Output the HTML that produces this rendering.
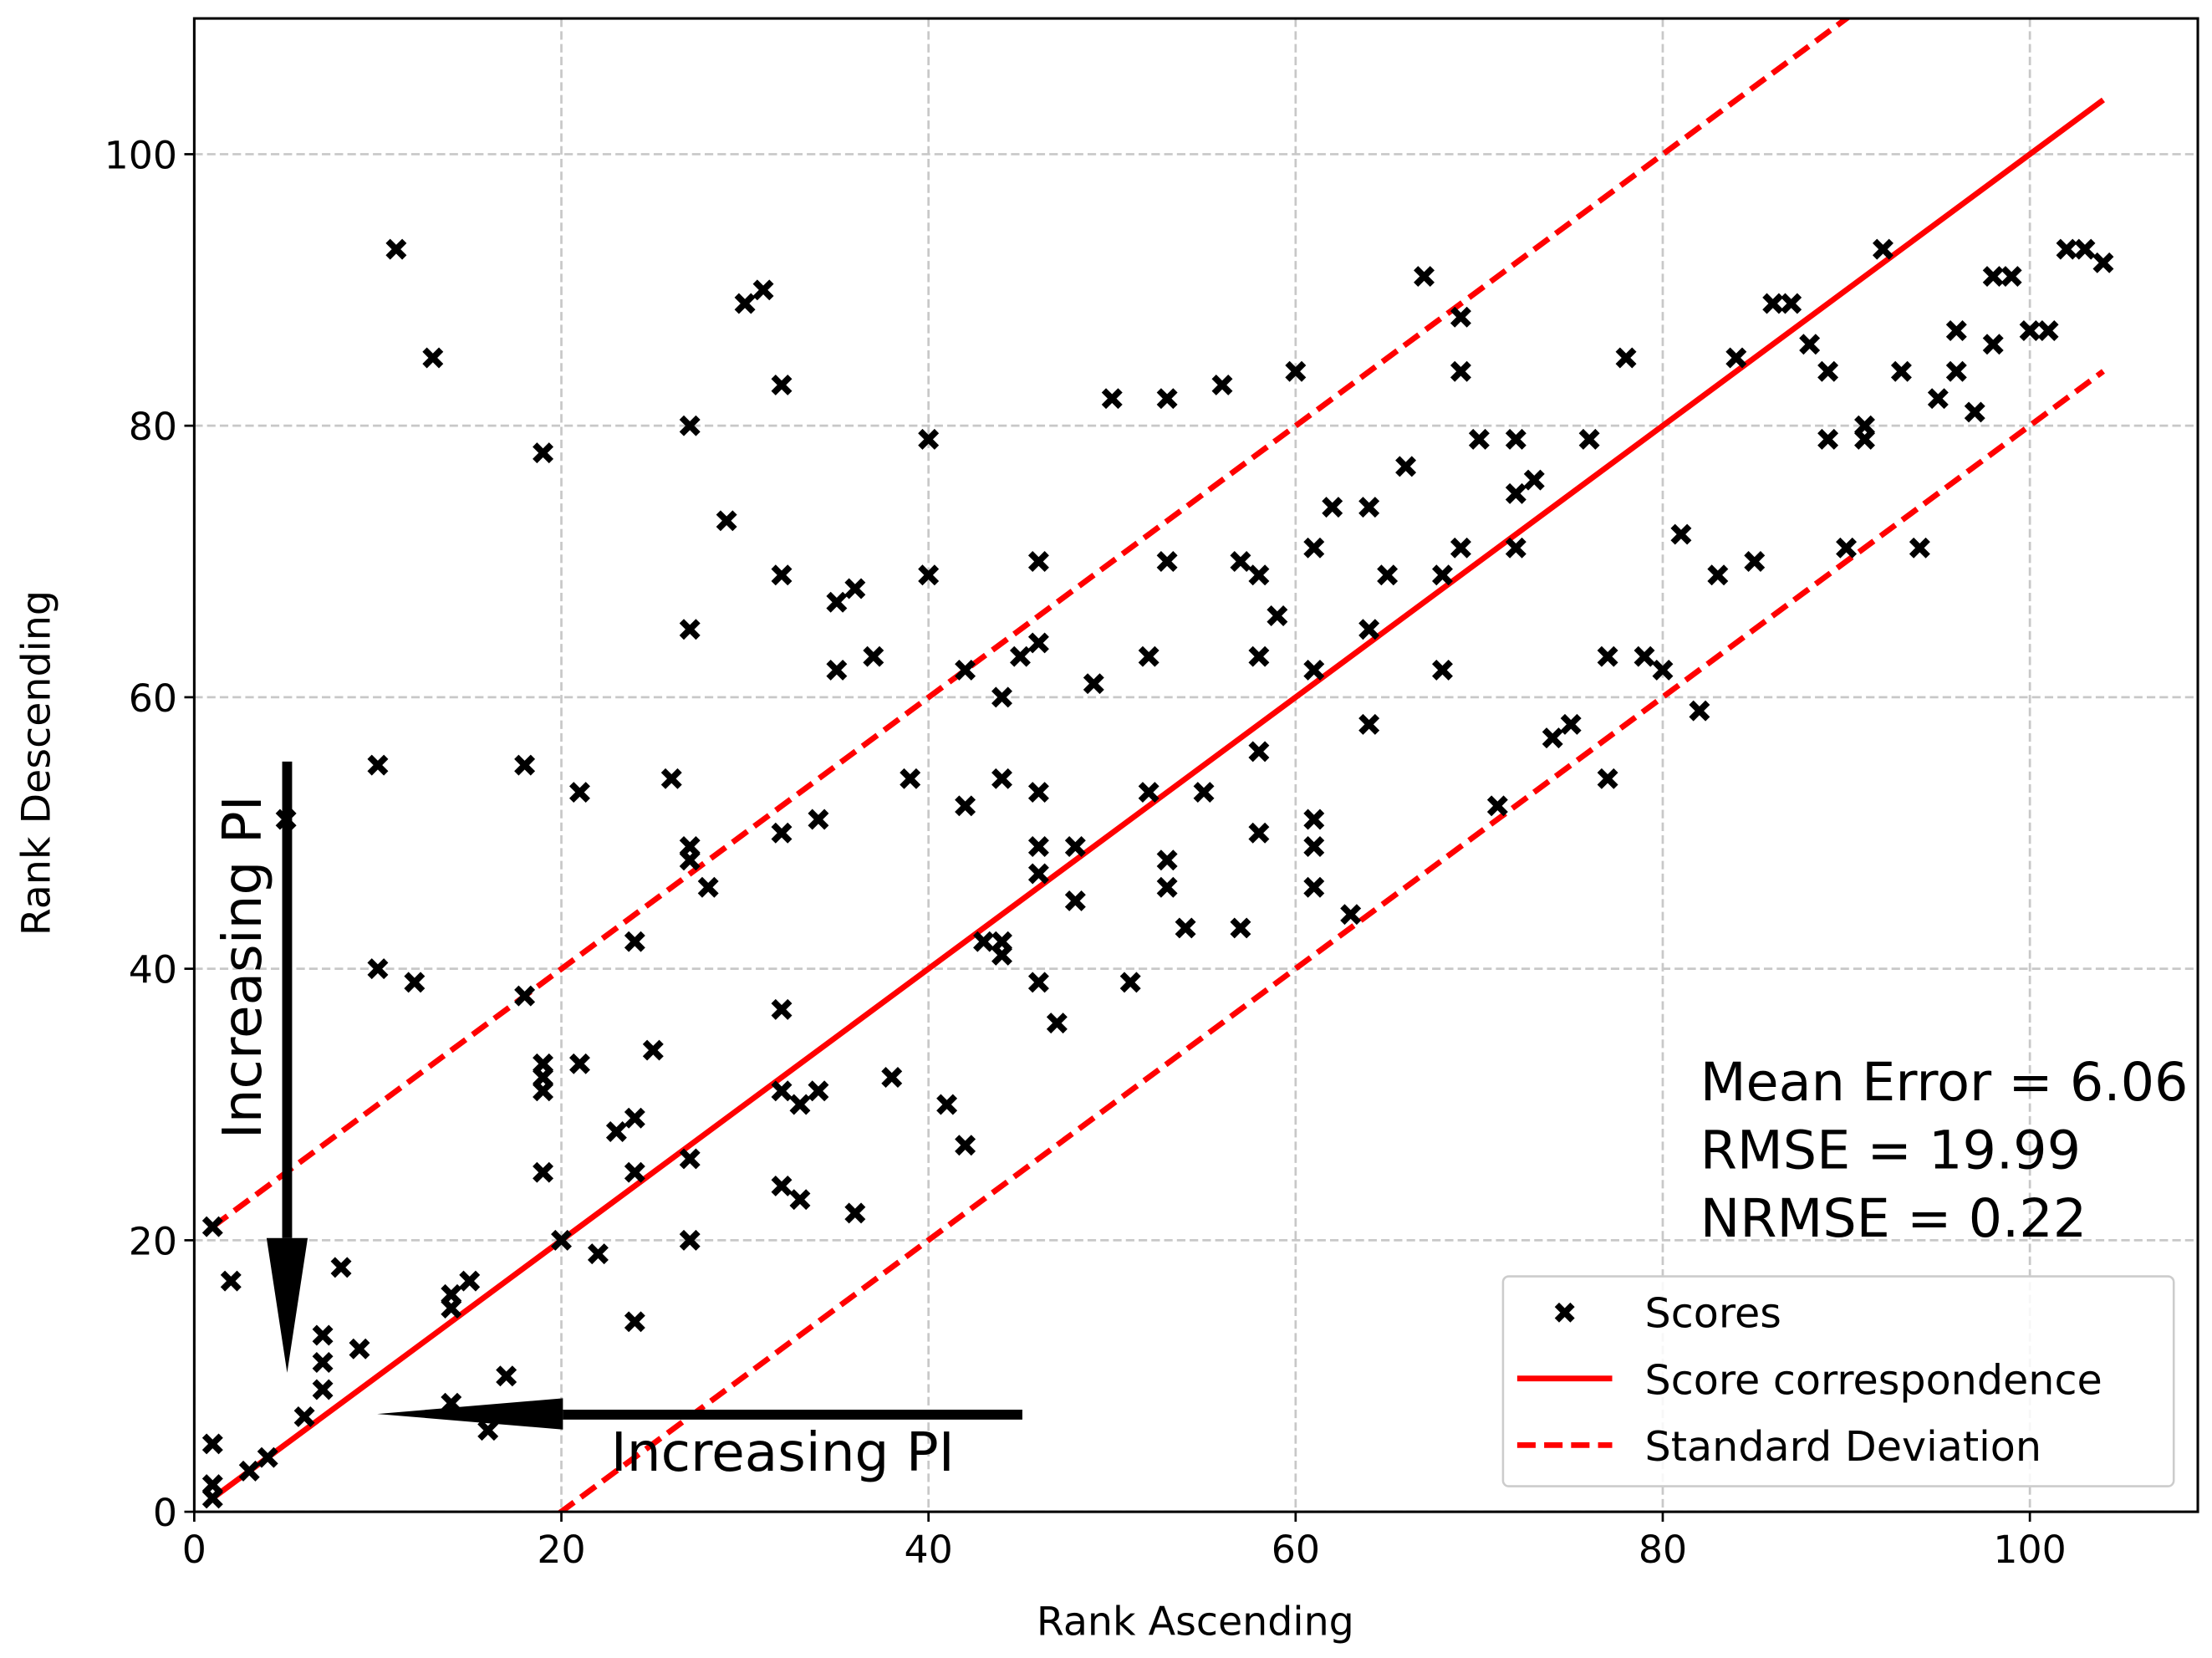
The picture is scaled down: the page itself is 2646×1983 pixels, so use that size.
<!DOCTYPE html>
<html><head><meta charset="utf-8"><style>
html,body{margin:0;padding:0;background:#fff;width:2646px;height:1983px;overflow:hidden;}
svg{display:block;font-family:"DejaVu Sans","Liberation Sans",sans-serif;}
</style></head><body>
<svg id="chart" width="2646" height="1983" viewBox="0 0 1560 1169.1" xmlns="http://www.w3.org/2000/svg">
<rect width="1560" height="1169.1" fill="#fff"/>
<g id="grid"></g>
<g id="lines"></g>
<g id="points"></g>
<g id="axes"></g>
<g>
  <rect x="199" y="537" width="7" height="336" fill="#000"/>
  <polygon points="188,873 217,873 202.5,968" fill="#000"/>
</g>
<text transform="translate(184,682) rotate(-90)" text-anchor="middle" font-size="38">Increasing PI</text>
<g>
  <rect x="397" y="994" width="324" height="7" fill="#000"/>
  <polygon points="397,986 397,1008 266,997" fill="#000"/>
</g>
<text x="552" y="1037" text-anchor="middle" font-size="38">Increasing PI</text>
<g font-size="37.5">
  <text x="1199" y="776">Mean Error = 6.06</text>
  <text x="1199" y="824">RMSE = 19.99</text>
  <text x="1199" y="872">NRMSE = 0.22</text>
</g>
<g>
  <rect x="1060" y="900" width="473" height="148" rx="4" fill="#fff" fill-opacity="0.85" stroke="#ccc" stroke-width="1.5"/>
  <g>
    <path d="M1098,920 L1109,931 M1109,920 L1098,931" stroke="#000" stroke-width="4.4"/>
    <text x="1160" y="936" font-size="29">Scores</text>
  </g>
  <g>
    <line x1="1070" y1="972" x2="1137" y2="972" stroke="#ff0000" stroke-width="4"/>
    <text x="1160" y="983" font-size="29">Score correspondence</text>
  </g>
  <g>
    <line x1="1070" y1="1019" x2="1137" y2="1019" stroke="#ff0000" stroke-width="4" stroke-dasharray="13,6"/>
    <text x="1160" y="1030" font-size="29">Standard Deviation</text>
  </g>
</g>
</svg>
<script>
const xTicks=[0,20,40,60,80,100];
const yTicks=[0,20,40,60,80,100];
const lineStart=[1];
const lineEnd=[104];
const stdOffset=[19.99];
const scoreX=[1,1,1,1,2,3,4,5,6,7,7,7,8,9,10,10,11,12,13,14,14,14,15,16,17,18,18,19,19,19,19,19,20,21,21,22,23,24,24,24,24,25,26,27,27,27,27,27,27,28,29,30,31,32,32,32,32,32,32,33,33,34,34,35,35,36,36,37,38,39,40,40,41,42,42,42,43,44,44,44,44,45,46,46,46,46,46,46,47,48,48,49,50,51,52,52,53,53,53,53,54,55,56,57,57,58,58,58,58,59,60,61,61,61,61,61,62,63,64,64,64,65,66,67,68,68,69,69,69,70,71,72,72,72,73,74,75,76,77,77,78,79,80,81,82,83,84,85,86,87,88,89,89,90,91,91,92,93,94,95,96,96,97,98,98,99,100,101,102,103,104];
const scoreY=[1,2,5,21,17,3,4,51,7,9,11,13,18,12,55,40,93,39,85,8,15,16,17,6,10,55,38,78,33,32,31,25,20,53,33,19,28,42,29,25,14,34,54,80,65,49,48,26,20,46,73,89,90,83,69,50,37,31,24,30,23,51,31,67,62,68,22,63,32,54,79,69,30,62,52,27,42,42,41,60,54,63,70,64,53,49,47,39,36,49,45,61,82,39,63,53,82,70,48,46,43,53,83,70,43,69,63,56,50,66,84,71,62,51,49,46,74,44,74,65,58,69,77,91,69,62,88,84,71,79,52,79,75,71,76,57,58,79,63,54,85,63,62,72,59,69,85,70,89,89,86,84,79,71,80,79,93,84,71,82,87,84,81,91,86,91,87,87,93,93,92];

const L=137,R=1550,T=13,B=1066,XMAX=109.15,YMAX=110;
const sx=v=>L+(v/XMAX)*(R-L);
const sy=v=>B-(v/YMAX)*(B-T);
const NS='http://www.w3.org/2000/svg';
function mk(tag,attrs,parent){const e=document.createElementNS(NS,tag);for(const k in attrs)e.setAttribute(k,attrs[k]);parent.appendChild(e);return e;}
const grid=document.getElementById('grid'),axes=document.getElementById('axes'),lines=document.getElementById('lines'),pts=document.getElementById('points');

xTicks.forEach(t=>{
  const g=mk('line',{x1:sx(t),x2:sx(t),y1:T,y2:B,stroke:'#c8c8c8','stroke-width':1.6,'stroke-dasharray':'6,3'},grid);
  
  
  const tk=mk('line',{x1:sx(t),x2:sx(t),y1:B,y2:B+7,stroke:'#000','stroke-width':1.6},axes);
  
  
  const lb=mk('text',{x:sx(t),y:B+36,'text-anchor':'middle','font-size':27},axes);
  lb.textContent=t;
  
  
});
yTicks.forEach(t=>{
  const g=mk('line',{x1:L,x2:R,y1:sy(t),y2:sy(t),stroke:'#c8c8c8','stroke-width':1.6,'stroke-dasharray':'6,3'},grid);
  
  
  const tk=mk('line',{x1:L-7,x2:L,y1:sy(t),y2:sy(t),stroke:'#000','stroke-width':1.6},axes);
  
  
  const lb=mk('text',{x:L-12,y:sy(t)+10,'text-anchor':'end','font-size':27},axes);
  lb.textContent=t;
  
  
});
const frame=mk('rect',{x:L,y:T,width:R-L,height:B-T,fill:'none',stroke:'#000','stroke-width':1.8},axes);


const xl=mk('text',{x:843,y:1153,'text-anchor':'middle','font-size':28},axes);
xl.textContent='Rank Ascending';


const yl=mk('text',{transform:`translate(35,538) rotate(-90)`,'text-anchor':'middle','font-size':28},axes);
yl.textContent='Rank Descending';



const defs=mk('defs',{},document.getElementById('chart'));
const cp=mk('clipPath',{id:'plotclip'},defs);
mk('rect',{x:L,y:T,width:R-L,height:B-T},cp);
lines.setAttribute('clip-path','url(#plotclip)');
const a=lineStart[0],b=lineEnd[0],d=stdOffset[0];
const solid=mk('line',{x1:sx(a),y1:sy(a),x2:sx(b),y2:sy(b),stroke:'#ff0000','stroke-width':4},lines);


const up=mk('line',{x1:sx(a),y1:sy(a+d),x2:sx(b),y2:sy(b+d),stroke:'#ff0000','stroke-width':4,'stroke-dasharray':'13,6'},lines);


const lo=mk('line',{x1:sx(a),y1:sy(a-d),x2:sx(b),y2:sy(b-d),stroke:'#ff0000','stroke-width':4,'stroke-dasharray':'13,6'},lines);



scoreX.forEach((x,i)=>{
  const cx=sx(x),cy=sy(scoreY[i]),s=5.8;
  const p=mk('path',{d:`M${cx-s},${cy-s}L${cx+s},${cy+s}M${cx+s},${cy-s}L${cx-s},${cy+s}`,stroke:'#000','stroke-width':4.4},pts);
  
  
});
</script>
</body></html>
